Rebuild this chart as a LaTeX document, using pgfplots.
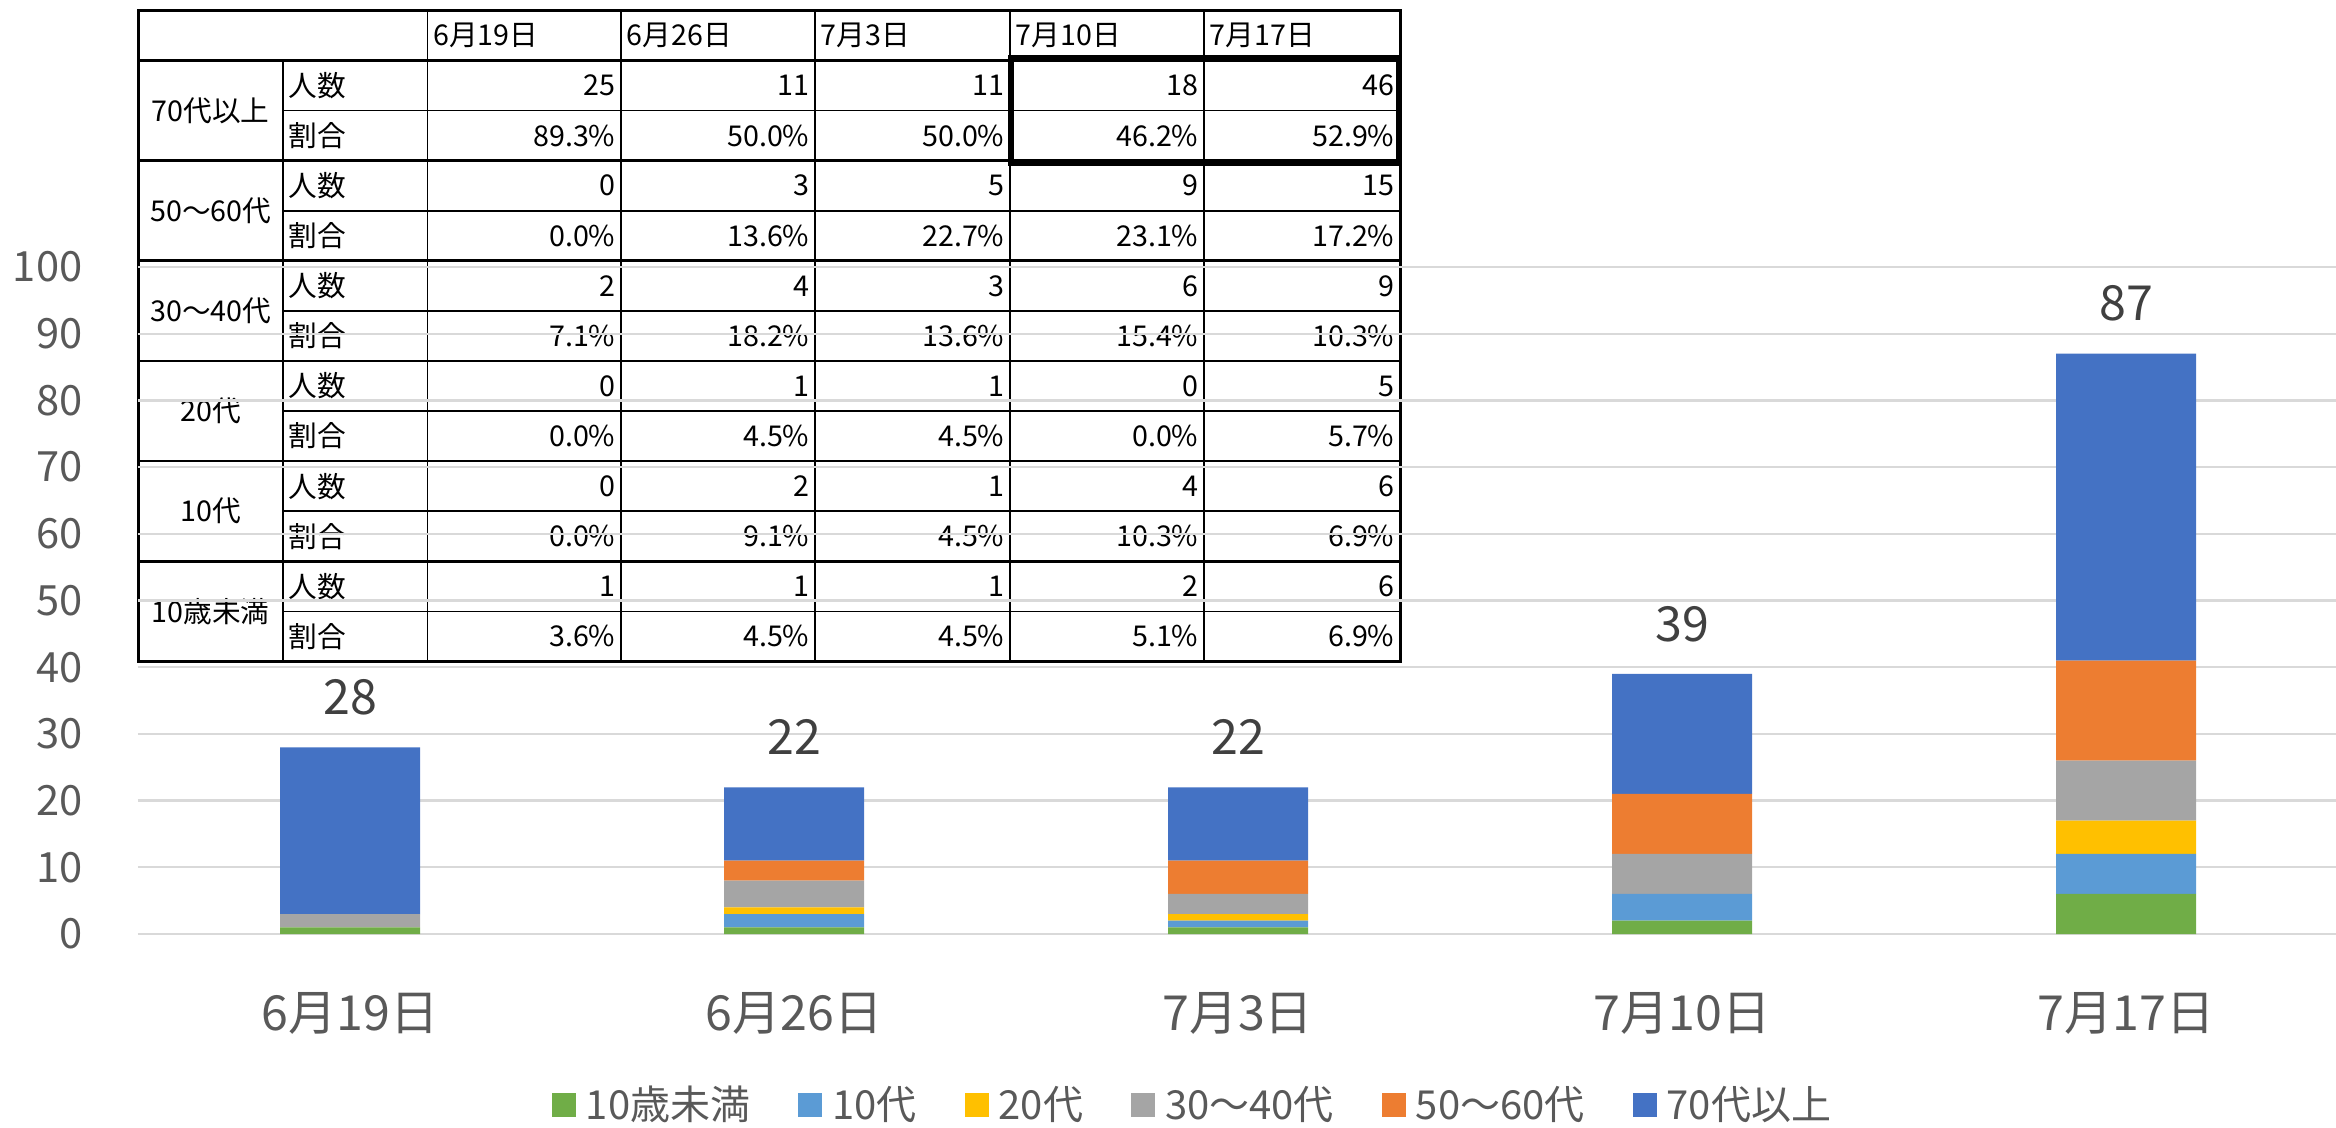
\documentclass[border=0pt]{standalone}
\usepackage{fontspec}
\setmainfont{Noto Sans CJK JP}
\usepackage{pgfplots}
\pgfplotsset{compat=1.18}
\usepackage{pgfplotstable}
\definecolor{cA}{HTML}{70AD47}
\definecolor{cB}{HTML}{5B9BD5}
\definecolor{cC}{HTML}{FFC000}
\definecolor{cD}{HTML}{A5A5A5}
\definecolor{cE}{HTML}{ED7D31}
\definecolor{cF}{HTML}{4472C4}
\definecolor{gridc}{HTML}{D9D9D9}
\definecolor{tickc}{HTML}{595959}
\definecolor{labc}{HTML}{404040}

\pgfplotstableread{
x a b c d e f t
0 1 0 0 2 0 25 28
1 1 2 1 4 3 11 22
2 1 1 1 3 5 11 22
3 2 4 0 6 9 18 39
4 6 6 5 9 15 46 87
}\data

\newcommand{\tfont}{\fontsize{8.6}{10}\selectfont}
% row values: #1 = row centre y (px), #2..#6 values
\newcommand{\rowvals}[6]{%
  \node[anchor=east] at (616,#1) {#2};
  \node[anchor=east] at (810,#1) {#3};
  \node[anchor=east] at (1005,#1) {#4};
  \node[anchor=east] at (1199,#1) {#5};
  \node[anchor=east] at (1395,#1) {#6};
}

\begin{document}
\begin{tikzpicture}
\useasboundingbox (0,0) rectangle (700.8pt,338.1pt);

% ---------- table (pixel coordinates, y downward) ----------
\begin{scope}[x=0.3pt, y=-0.3pt, yshift=338.1pt, every node/.style={inner sep=0pt, font=\tfont, text=black}]
  \draw[line width=0.5pt] (283,60.5) -- (283,661.4);
  \foreach \xx in {427.6,621,815,1010,1204} \draw[line width=0.5pt] (\xx,10.4) -- (\xx,661.4);
  \foreach \yy in {110.6,210.7,310.9,411.0,511.2,611.4} \draw[line width=0.5pt] (283,\yy) -- (1400,\yy);
  \foreach \yy in {60.5,160.6,260.8,361.0,461.1,561.3} \draw[line width=0.8pt] (138.5,\yy) -- (1400,\yy);
  \draw[line width=0.9pt] (138.5,10.4) rectangle (1400,661.4);
  \draw[line width=1.8pt] (1011,58.5) rectangle (1399,163);
  \node[anchor=west] at (432.6,35.4) {6月19日};
  \node[anchor=west] at (626,35.4) {6月26日};
  \node[anchor=west] at (820,35.4) {7月3日};
  \node[anchor=west] at (1015,35.4) {7月10日};
  \node[anchor=west] at (1209,35.4) {7月17日};
  \node at (210.7,110.6) {70代以上};
  \node at (210.7,210.7) {50〜60代};
  \node at (210.7,310.9) {30〜40代};
  \node at (210.7,411.0) {20代};
  \node at (210.7,511.2) {10代};
  \node at (210.7,611.4) {10歳未満};
  \foreach \yy in {85.5,185.7,285.8,386.0,486.2,586.3} \node[anchor=west] at (288,\yy) {人数};
  \foreach \yy in {135.6,235.8,335.9,436.1,536.2,636.4} \node[anchor=west] at (288,\yy) {割合};
  \rowvals{85.5}{25}{11}{11}{18}{46}
  \rowvals{135.6}{89.3\%}{50.0\%}{50.0\%}{46.2\%}{52.9\%}
  \rowvals{185.7}{0}{3}{5}{9}{15}
  \rowvals{235.8}{0.0\%}{13.6\%}{22.7\%}{23.1\%}{17.2\%}
  \rowvals{285.8}{2}{4}{3}{6}{9}
  \rowvals{335.9}{7.1\%}{18.2\%}{13.6\%}{15.4\%}{10.3\%}
  \rowvals{386.0}{0}{1}{1}{0}{5}
  \rowvals{436.1}{0.0\%}{4.5\%}{4.5\%}{0.0\%}{5.7\%}
  \rowvals{486.2}{0}{2}{1}{4}{6}
  \rowvals{536.2}{0.0\%}{9.1\%}{4.5\%}{10.3\%}{6.9\%}
  \rowvals{586.3}{1}{1}{1}{2}{6}
  \rowvals{636.4}{3.6\%}{4.5\%}{4.5\%}{5.1\%}{6.9\%}
\end{scope}

% ---------- chart ----------
\begin{axis}[
  at={(41.4pt,57.9pt)}, anchor=south west,
  width=659.4pt, height=200.1pt, scale only axis,
  xmin=-0.4775, xmax=4.473, ymin=0, ymax=100,
  enlargelimits=false,
  ybar stacked, bar width=42pt,
  axis line style={draw=none}, tick style={draw=none},
  ymajorgrids, grid style={draw=gridc, line width=0.7pt},
  ytick={0,10,...,100},
  xtick={0,1,2,3,4},
  xticklabels={6月19日,6月26日,7月3日,7月10日,7月17日},
  /pgf/number format/assume math mode=true,
  yticklabel style={anchor=east, xshift=-16.5pt, inner sep=0pt, font=\fontsize{12.5}{14}\selectfont, text=tickc},
  xticklabel style={anchor=center, yshift=-23.7pt, inner sep=0pt, font=\fontsize{14.5}{16}\selectfont, text=tickc},
  legend image code/.code={\path[#1] (0pt,-3.6pt) rectangle (7.2pt,3.6pt);},
  legend style={at={(0.4793,-0.2564)}, anchor=center, draw=none, fill=none,
    legend columns=-1, font=\fontsize{12}{14}\selectfont, text=tickc,
    nodes={inner sep=0pt},
    /tikz/every odd column/.append style={column sep=3pt},
    /tikz/every even column/.append style={column sep=14.4pt}},
]
\addplot[fill=cA, draw=none] table[x=x, y=a] {\data};
\addplot[fill=cB, draw=none] table[x=x, y=b] {\data};
\addplot[fill=cC, draw=none] table[x=x, y=c] {\data};
\addplot[fill=cD, draw=none] table[x=x, y=d] {\data};
\addplot[fill=cE, draw=none] table[x=x, y=e] {\data};
\addplot[fill=cF, draw=none] table[x=x, y=f] {\data};
\legend{10歳未満,10代,20代,30〜40代,50〜60代,70代以上}
\end{axis}

% totals above the bars
\begin{axis}[
  at={(41.4pt,57.9pt)}, anchor=south west,
  width=659.4pt, height=200.1pt, scale only axis,
  xmin=-0.4775, xmax=4.473, ymin=0, ymax=100,
  enlargelimits=false, hide axis, clip=false,
]
\addplot[draw=none, mark=none, point meta=explicit symbolic,
  nodes near coords={\pgfplotspointmeta},
  nodes near coords style={anchor=center, yshift=15pt, inner sep=0pt, font=\fontsize{14.5}{16}\selectfont, text=labc}]
  table[x=x, y=t, meta=t] {\data};
\end{axis}
\end{tikzpicture}
\end{document}
